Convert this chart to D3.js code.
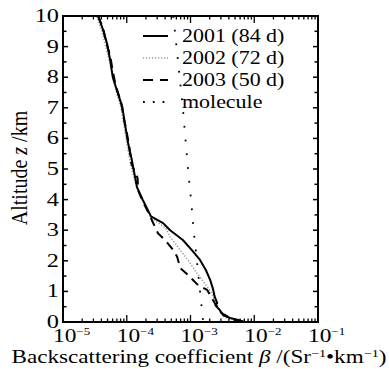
<!DOCTYPE html>
<html><head><meta charset="utf-8">
<script src="https://cdn.jsdelivr.net/npm/d3@7"></script>
<style>
html,body{margin:0;padding:0;background:#fff;}
svg{display:block;}
</style></head>
<body>
<svg id="c" width="389" height="369"></svg>
<script>
// ---- data ----
const alt2001 = [10, 9.54, 9.1, 8.56, 8.0, 7.48, 7.03, 6.5, 5.85, 5.3, 4.74, 4.4, 4.0, 3.45, 3.23, 3.0, 2.68, 2.35, 2.03, 1.7, 1.37, 1.1, 0.82, 0.62, 0.55, 0.39, 0.23, 0.13, 0.07, 0];
const beta2001 = [3.55e-5, 4.27e-5, 4.90e-5, 5.50e-5, 6.03e-5, 7.24e-5, 8.51e-5, 9.33e-5, 1.05e-4, 1.20e-4, 1.35e-4, 1.45e-4, 1.78e-4, 2.40e-4, 3.72e-4, 4.79e-4, 7.59e-4, 1.05e-3, 1.41e-3, 1.74e-3, 2.04e-3, 2.24e-3, 2.40e-3, 2.63e-3, 2.45e-3, 2.88e-3, 3.24e-3, 4.17e-3, 5.62e-3, 7.08e-3];

const alt2002 = [10, 9.5, 9, 8.5, 8, 7.5, 7, 6.5, 6, 5.5, 5, 4.5, 4, 3.6, 3.4, 3.07, 2.78, 2.4, 2.0, 1.6, 1.1, 0.9, 0.6, 0.4, 0.2, 0.1, 0];
const beta2002 = [3.39e-5, 4.07e-5, 4.68e-5, 5.37e-5, 6.17e-5, 6.92e-5, 8.13e-5, 8.91e-5, 9.77e-5, 1.07e-4, 1.20e-4, 1.38e-4, 1.74e-4, 2.14e-4, 2.45e-4, 4.07e-4, 4.79e-4, 6.61e-4, 9.33e-4, 1.26e-3, 1.91e-3, 2.19e-3, 2.57e-3, 2.82e-3, 3.24e-3, 3.98e-3, 6.31e-3];

const alt2003 = [10, 9.6, 9.2, 8.7, 8.2, 7.7, 7.2, 6.7, 6.2, 5.7, 5.2, 4.7, 4.3, 3.9, 3.5, 3.3, 2.9, 2.68, 2.35, 2.13, 1.76, 1.54, 1.2, 1.05, 0.62, 0.3, 0.1, 0];
const beta2003 = [3.55e-5, 4.27e-5, 4.68e-5, 5.50e-5, 6.03e-5, 6.76e-5, 8.13e-5, 8.91e-5, 1.00e-4, 1.10e-4, 1.17e-4, 1.48e-4, 1.51e-4, 1.82e-4, 2.29e-4, 2.51e-4, 3.09e-4, 3.98e-4, 5.37e-4, 6.17e-4, 6.92e-4, 9.12e-4, 1.32e-3, 1.82e-3, 2.40e-3, 3.02e-3, 4.47e-3, 6.31e-3];

const altMol = [10, 9, 8, 7, 6, 5, 4, 3, 2, 1, 0];
const betaMol = [5.37e-4, 6.03e-4, 6.76e-4, 7.59e-4, 8.32e-4, 9.12e-4, 1.02e-3, 1.12e-3, 1.26e-3, 1.41e-3, 1.58e-3];

const seriesNames = ["2001 (84 d)", "2002 (72 d)", "2003 (50 d)", "molecule"];
const xTickValues = [1e-5, 1e-4, 1e-3, 1e-2, 1e-1];
const xTickExps = ["\u22125", "\u22124", "\u22123", "\u22122", "\u22121"];
const yTickValues = [0, 1, 2, 3, 4, 5, 6, 7, 8, 9, 10];

// ---- layout ----
const L = 63, R = 318, T = 16, B = 322;
const FF = '"Liberation Serif"';
const svg = d3.select("#c");
const x = d3.scaleLog().domain([1e-5, 1e-1]).range([L, R]);
const y = d3.scaleLinear().domain([0, 10]).range([B, T]);

function stretch(sel, ax, sx) {
  sel.attr("transform", `translate(${ax},0) scale(${sx},1) translate(${-ax},0)`);
}

const styles = [
  {stroke: "#000", width: 2, dash: null},
  {stroke: "#999", width: 1.6, dash: "1.2,1.8"},
  {stroke: "#000", width: 2, dash: "9,6"},
  {stroke: "#000", width: 1.8, dash: "1.8,12"}
];
const series = [
  {alt: alt2001, beta: beta2001},
  {alt: alt2002, beta: beta2002},
  {alt: alt2003, beta: beta2003},
  {alt: altMol, beta: betaMol}
];

const line = d3.line().x(d => x(d[1])).y(d => y(d[0]));
const drawOrder = [3, 1, 2, 0];
drawOrder.forEach(i => {
  const s = series[i], st = styles[i];
  svg.append("path")
    .datum(s.alt.map((a, k) => [a, s.beta[k]]))
    .attr("d", line)
    .attr("fill", "none")
    .attr("stroke", st.stroke)
    .attr("stroke-width", st.width)
    .attr("stroke-dasharray", st.dash)
    .attr("stroke-linejoin", "round");
});

// ---- axes (ticks inward) ----
const minorX = [];
for (let e = -5; e < -1; e++) for (let m = 2; m <= 9; m++) minorX.push(m * Math.pow(10, e));
const minorY = d3.range(0.5, 10, 1);

const gAx = svg.append("g").attr("stroke", "#000");
function xt(vals, len) {
  vals.forEach(v => {
    gAx.append("line").attr("x1", x(v)).attr("x2", x(v)).attr("y1", B).attr("y2", B - len).attr("stroke-width", 1.3);
    gAx.append("line").attr("x1", x(v)).attr("x2", x(v)).attr("y1", T).attr("y2", T + len).attr("stroke-width", 1.3);
  });
}
xt(xTickValues, 7); xt(minorX, 3.5);
function yt(vals, len) {
  vals.forEach(v => {
    gAx.append("line").attr("y1", y(v)).attr("y2", y(v)).attr("x1", L).attr("x2", L + len).attr("stroke-width", 1.5);
    gAx.append("line").attr("y1", y(v)).attr("y2", y(v)).attr("x1", R).attr("x2", R - len).attr("stroke-width", 1.5);
  });
}
yt(yTickValues, 5); yt(minorY, 3.5);

svg.append("rect").attr("x", L).attr("y", T).attr("width", R - L).attr("height", B - T)
  .attr("fill", "none").attr("stroke", "#000").attr("stroke-width", 2);

// y tick labels
yTickValues.forEach(v => {
  const t = svg.append("text").attr("font-family", FF)
    .attr("x", L - 4).attr("y", y(v) + 6)
    .attr("text-anchor", "end").attr("font-size", 18).text(v);
  stretch(t, L - 4, 1.35);
});

// x tick labels
xTickValues.forEach((v, i) => {
  const ax = x(v) - 10;
  const t = svg.append("text").attr("font-family", FF).attr("x", ax).attr("y", 342)
    .attr("text-anchor", "start").attr("font-size", 18);
  t.append("tspan").text("10");
  t.append("tspan").attr("dy", -7).attr("font-size", 10).text(xTickExps[i]);
  stretch(t, ax, 1.3);
});

// x axis title
const xl = svg.append("text").attr("font-family", FF).attr("x", 199).attr("y", 363).attr("text-anchor", "middle").attr("font-size", 18);
xl.append("tspan").text("Backscattering coefficient ");
xl.append("tspan").attr("font-style", "italic").text("\u03b2");
xl.append("tspan").text(" /(Sr");
xl.append("tspan").attr("dy", -6).attr("font-size", 11).text("\u22121");
xl.append("tspan").attr("dy", 6).text("\u2022km");
xl.append("tspan").attr("dy", -6).attr("font-size", 11).text("\u22121");
xl.append("tspan").attr("dy", 6).text(")");
const xw = xl.node().getComputedTextLength();
stretch(xl, 199, xw > 0 ? Math.min(1.4, 375 / xw) : 1.2);

// y axis title
const yl = svg.append("text").attr("font-family", FF)
  .attr("transform", "translate(27,168) scale(1.2,1) rotate(-90)")
  .attr("text-anchor", "middle").attr("font-size", 20);
yl.append("tspan").text("Altitude ");
yl.append("tspan").attr("font-style", "italic").text("z");
yl.append("tspan").text(" /km");

// legend
const legY = [36, 58, 80, 102];
seriesNames.forEach((n, i) => {
  const st = styles[i];
  svg.append("line").attr("x1", 143).attr("x2", 168).attr("y1", legY[i]).attr("y2", legY[i])
    .attr("stroke", st.stroke).attr("stroke-width", st.width)
    .attr("stroke-dasharray", i === 3 ? "1.8,8" : (i === 2 ? "10,7" : st.dash));
  const t = svg.append("text").attr("font-family", FF).attr("x", 182).attr("y", legY[i] + 6).attr("font-size", 18).text(n);
  stretch(t, 182, 1.22);
});
</script>
</body></html>
